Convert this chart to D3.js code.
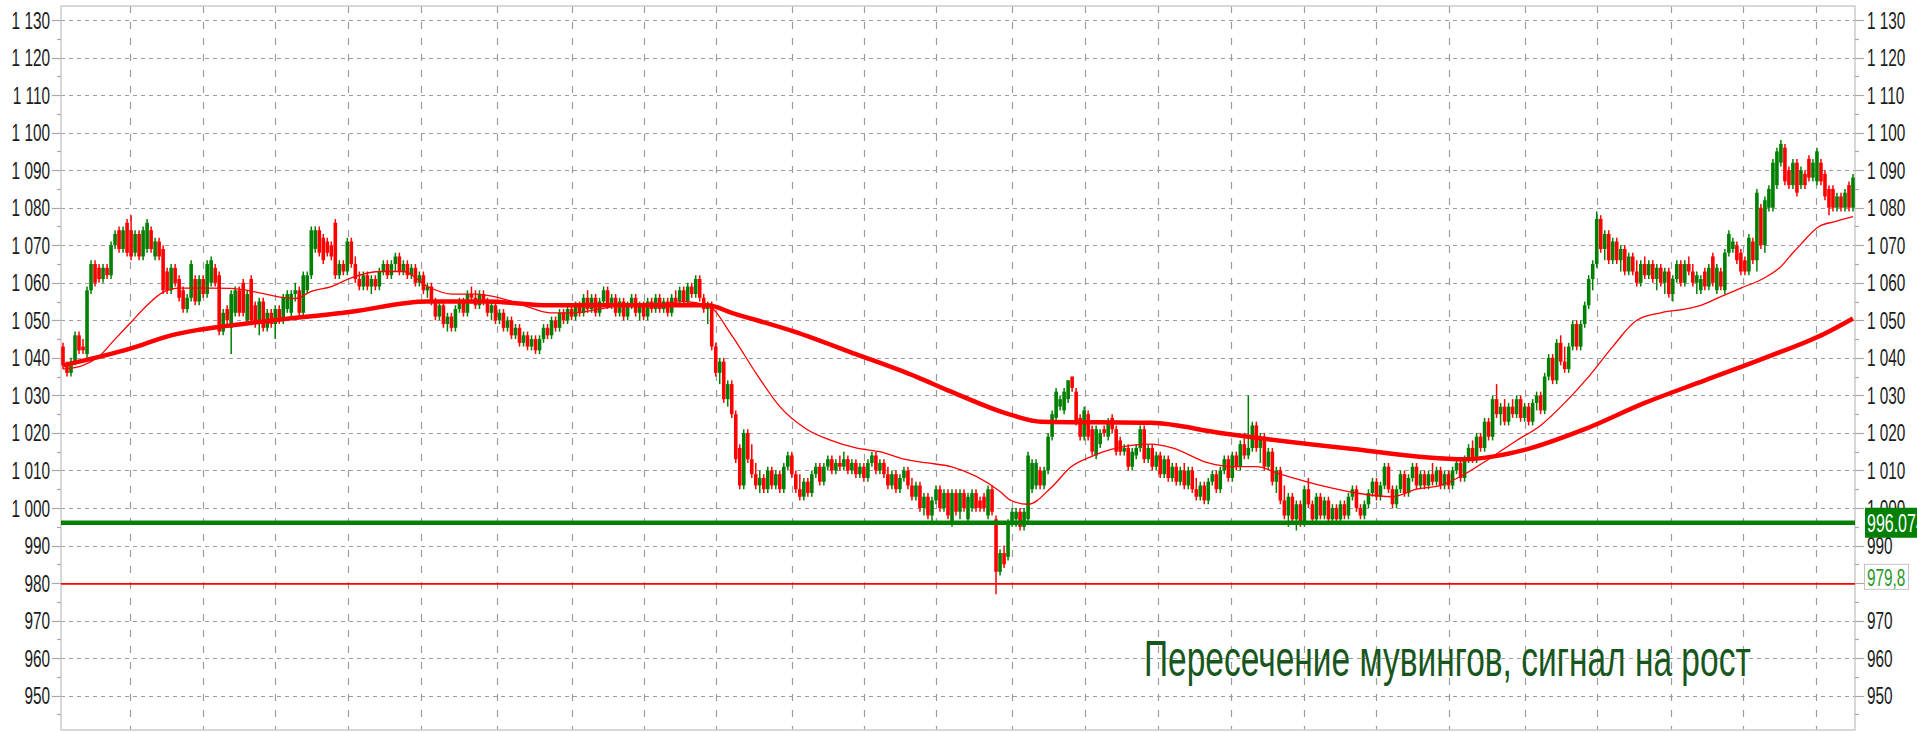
<!DOCTYPE html>
<html>
<head>
<meta charset="utf-8">
<script src="https://cdn.jsdelivr.net/npm/d3@7"></script>
<style>
html,body{margin:0;padding:0;background:#fff;overflow:hidden}
svg{display:block}
</style>
</head>
<body>
<svg id="chart" width="1917" height="732"></svg>
<script>
// ---- price candles (open / high / low / close) ----
const opens = [
1043,1038,1036,1039,1046,1043,1041,1058,1065,1064,
1061,1064,1062,1070,1074,1069,1076,1074,1068,1073,
1067,1069,1074,1067,1071,1069,1063,1058,1064,1061,
1058,1053,1056,1061,1055,1061,1057,1060,1064,1062,
1047,1053,1048,1052,1058,1060,1050,1061,1054,1049,
1055,1048,1052,1049,1053,1050,1053,1052,1057,1058,
1052,1058,1062,1069,1074,1072,1071,1070,1076,1062,
1065,1063,1071,1065,1061,1059,1062,1059,1061,1059,
1063,1065,1062,1065,1067,1063,1065,1062,1064,1060,
1062,1058,1059,1055,1051,1054,1049,1051,1048,1053,
1055,1052,1057,1056,1054,1057,1055,1052,1054,1050,
1052,1048,1050,1046,1048,1044,1046,1043,1045,1042,
1045,1048,1046,1050,1048,1052,1050,1053,1051,1054,
1052,1056,1053,1056,1052,1055,1058,1054,1056,1052,
1055,1051,1054,1056,1052,1054,1051,1055,1053,1056,
1053,1055,1052,1056,1055,1058,1055,1059,1057,1061,
1056,1053,1054,1043,1036,1039,1029,1033,1025,1016,
1006,1020,1013,1009,1006,1008,1005,1010,1006,1009,
1005,1011,1014,1009,1005,1003,1007,1004,1009,1011,
1007,1011,1013,1010,1012,1011,1013,1010,1012,1009,
1011,1008,1012,1014,1010,1012,1009,1006,1009,1005,
1008,1010,1006,1003,1006,1000,1003,998,1002,1005,
1000,1004,996,1004,999,1004,997,1000,1004,1002,
1003,998,1005,997,983,988,987,996,997,999,
995,997,1005,1006,1010,1006,1010,1019,1024,1027,
1026,1029,1035,1031,1024,1019,1025,1021,1014,1017,
1021,1019,1024,1021,1018,1015,1016,1011,1014,1016,
1021,1013,1016,1011,1014,1009,1013,1008,1011,1007,
1010,1006,1010,1005,1003,1006,1002,1007,1009,1005,
1010,1013,1008,1014,1011,1017,1014,1016,1022,1016,
1019,1011,1015,1007,1010,1002,998,1003,997,1001,
996,1005,1001,997,1003,998,1002,997,1000,997,
1001,998,1003,1005,1000,998,1001,1004,1007,1003,
1006,1011,1005,1001,1005,1009,1004,1008,1011,1006,
1009,1006,1009,1007,1010,1006,1009,1006,1010,1012,
1008,1013,1016,1013,1019,1016,1023,1019,1029,1025,
1027,1023,1027,1025,1029,1024,1027,1023,1028,1030,
1026,1035,1040,1034,1044,1039,1037,1043,1049,1043,
1049,1054,1061,1065,1077,1069,1073,1066,1071,1066,
1069,1063,1067,1063,1060,1065,1062,1065,1061,1064,
1060,1063,1057,1061,1065,1060,1065,1063,1060,1058,
1063,1059,1067,1058,1063,1058,1068,1069,1070,1068,
1066,1063,1071,1066,1080,1070,1080,1080,1086,1092,
1096,1090,1086,1092,1086,1089,1093,1088,1087,1092,
1089,1085,1085,1080,1083,1080,1086,1080
];
const highs = [
1044,1039,1040,1047,1047,1045,1059,1066,1066,1065,
1065,1065,1071,1074,1075,1075,1077,1078,1074,1074,
1075,1077,1075,1072,1072,1070,1064,1065,1065,1062,
1059,1057,1066,1062,1062,1062,1066,1067,1065,1063,
1053,1054,1058,1059,1059,1061,1058,1062,1055,1056,
1056,1053,1053,1054,1054,1057,1058,1058,1060,1059,
1063,1063,1075,1075,1075,1073,1072,1071,1077,1066,
1066,1072,1072,1067,1063,1063,1063,1062,1062,1064,
1066,1066,1066,1068,1068,1066,1066,1065,1065,1063,
1063,1060,1060,1056,1055,1055,1052,1052,1054,1056,
1056,1058,1059,1058,1058,1058,1056,1055,1055,1053,
1053,1051,1051,1049,1049,1047,1047,1046,1046,1046,
1049,1049,1051,1051,1053,1053,1054,1054,1055,1055,
1057,1058,1057,1057,1056,1059,1059,1057,1057,1056,
1056,1055,1057,1057,1055,1055,1056,1056,1057,1057,
1056,1056,1057,1058,1059,1059,1060,1060,1062,1062,
1057,1055,1055,1044,1040,1040,1034,1034,1026,1017,
1021,1021,1017,1012,1010,1009,1011,1011,1010,1010,
1012,1015,1015,1010,1009,1008,1008,1010,1012,1012,
1012,1014,1014,1013,1014,1015,1014,1013,1013,1012,
1012,1013,1015,1015,1013,1013,1011,1010,1010,1009,
1011,1011,1008,1007,1007,1004,1004,1003,1006,1006,
1005,1005,1005,1005,1005,1005,1004,1005,1005,1003,
1004,1006,1006,998,989,990,997,1000,1000,1000,
1000,1015,1013,1013,1011,1011,1020,1026,1032,1030,
1032,1034,1035,1032,1025,1027,1026,1022,1022,1021,
1022,1024,1025,1022,1019,1017,1017,1016,1017,1022,
1022,1017,1017,1015,1015,1014,1014,1012,1012,1011,
1012,1011,1011,1008,1007,1007,1008,1010,1010,1011,
1014,1014,1015,1015,1018,1020,1030,1023,1023,1020,
1020,1016,1016,1011,1011,1006,1004,1004,1002,1002,
1006,1008,1002,1004,1004,1003,1003,1001,1001,1002,
1002,1004,1006,1006,1001,1002,1005,1008,1008,1007,
1012,1012,1006,1006,1010,1010,1009,1012,1012,1010,
1010,1010,1012,1011,1011,1010,1010,1011,1013,1013,
1014,1017,1018,1020,1020,1024,1024,1030,1033,1028,
1029,1028,1029,1030,1030,1028,1028,1029,1031,1031,
1036,1041,1041,1045,1046,1043,1044,1050,1050,1050,
1055,1062,1066,1079,1078,1074,1074,1072,1072,1070,
1070,1068,1068,1066,1066,1067,1066,1066,1065,1065,
1064,1064,1062,1066,1066,1066,1067,1065,1063,1062,
1064,1065,1068,1065,1064,1069,1074,1072,1071,1069,
1067,1073,1072,1085,1081,1083,1086,1093,1096,1098,
1097,1091,1093,1093,1091,1090,1094,1093,1096,1093,
1090,1086,1086,1084,1084,1085,1087,1089
];
const lows = [
1037,1035,1035,1038,1041,1041,1040,1057,1059,1060,
1060,1061,1061,1069,1068,1068,1067,1066,1067,1066,
1066,1068,1068,1066,1066,1057,1057,1057,1059,1055,
1052,1052,1055,1054,1054,1056,1056,1059,1059,1046,
1046,1049,1041,1051,1051,1051,1049,1049,1048,1046,
1047,1047,1048,1045,1049,1049,1052,1051,1055,1051,
1051,1057,1061,1068,1067,1065,1067,1066,1061,1061,
1062,1062,1064,1060,1058,1058,1058,1057,1058,1058,
1062,1061,1061,1063,1062,1062,1061,1061,1059,1059,
1057,1056,1054,1050,1050,1048,1047,1047,1047,1052,
1051,1051,1055,1053,1053,1054,1051,1050,1049,1049,
1047,1047,1045,1045,1043,1043,1042,1042,1041,1041,
1044,1045,1045,1047,1047,1049,1049,1050,1050,1051,
1051,1052,1052,1051,1051,1054,1053,1053,1051,1051,
1050,1050,1053,1051,1050,1050,1050,1052,1052,1052,
1052,1051,1051,1054,1054,1054,1054,1056,1056,1055,
1052,1049,1042,1035,1033,1028,1027,1024,1012,1005,
1005,1012,1008,1005,1004,1004,1004,1005,1005,1004,
1004,1010,1008,1004,1002,1002,1003,1003,1008,1006,
1006,1010,1009,1009,1010,1010,1009,1009,1008,1008,
1007,1007,1011,1009,1009,1008,1005,1005,1004,1004,
1007,1005,1002,1002,999,998,997,996,1001,999,
999,997,995,998,997,999,996,999,999,999,
999,997,998,977,982,984,986,995,995,994,
994,996,1004,1005,1005,1005,1009,1018,1023,1026,
1025,1028,1031,1022,1018,1018,1018,1014,1013,1016,
1019,1018,1020,1014,1014,1014,1010,1010,1013,1015,
1012,1012,1010,1010,1008,1008,1007,1007,1006,1006,
1005,1005,1004,1002,1002,1001,1001,1006,1004,1004,
1009,1007,1007,1010,1010,1013,1013,1015,1015,1012,
1010,1010,1006,1004,1001,997,995,996,994,995,
995,1000,996,996,997,997,996,996,996,996,
997,997,1002,999,997,997,1000,1003,1002,1002,
1005,1004,1000,1000,1004,1003,1003,1007,1005,1005,
1005,1005,1006,1006,1005,1005,1005,1005,1009,1007,
1007,1012,1012,1012,1015,1015,1018,1018,1024,1022,
1022,1022,1024,1024,1023,1023,1022,1022,1026,1025,
1025,1034,1033,1033,1038,1036,1036,1042,1042,1042,
1048,1053,1058,1064,1068,1066,1065,1065,1065,1063,
1062,1062,1062,1059,1059,1061,1061,1060,1058,1059,
1057,1056,1055,1060,1059,1059,1062,1059,1057,1057,
1058,1058,1059,1057,1058,1057,1067,1068,1065,1062,
1062,1062,1065,1063,1069,1068,1079,1079,1085,1091,
1086,1085,1085,1083,1085,1085,1087,1087,1086,1086,
1082,1078,1079,1079,1079,1079,1079,1079
];
const closes = [
1038,1036,1039,1046,1042,1042,1058,1065,1060,1061,
1064,1062,1070,1073,1069,1074,1068,1067,1073,1067,
1074,1076,1069,1071,1067,1058,1058,1064,1060,1056,
1053,1056,1065,1055,1061,1057,1065,1066,1060,1047,
1052,1050,1057,1058,1052,1052,1057,1050,1049,1055,
1048,1052,1049,1053,1050,1056,1057,1057,1058,1052,
1062,1062,1074,1074,1068,1066,1068,1067,1062,1065,
1063,1071,1065,1061,1059,1062,1059,1061,1059,1063,
1065,1062,1065,1067,1063,1065,1062,1064,1060,1062,
1058,1059,1055,1051,1054,1049,1051,1048,1053,1055,
1052,1057,1056,1054,1057,1055,1052,1054,1050,1052,
1048,1050,1046,1048,1044,1046,1043,1045,1042,1045,
1048,1046,1050,1048,1052,1050,1053,1051,1054,1052,
1056,1053,1056,1052,1055,1058,1054,1056,1052,1055,
1051,1054,1056,1052,1054,1051,1055,1053,1056,1053,
1055,1052,1056,1055,1058,1055,1059,1057,1061,1056,
1053,1054,1043,1036,1039,1029,1033,1025,1013,1006,
1020,1013,1009,1006,1008,1005,1010,1006,1009,1005,
1011,1014,1009,1005,1003,1007,1004,1009,1011,1007,
1011,1013,1010,1012,1011,1013,1010,1012,1009,1011,
1008,1012,1014,1010,1012,1009,1006,1009,1005,1008,
1010,1006,1003,1006,1000,1003,998,1002,1005,1000,
1004,998,1004,999,1004,1000,1003,1004,1000,1000,
1000,1005,999,983,988,985,996,999,999,995,
999,1014,1012,1012,1006,1010,1019,1025,1031,1029,
1031,1034,1032,1023,1019,1026,1019,1015,1021,1020,
1020,1023,1021,1015,1015,1016,1011,1015,1016,1021,
1013,1016,1011,1014,1009,1013,1008,1011,1007,1010,
1006,1010,1005,1003,1006,1002,1007,1009,1005,1010,
1013,1008,1014,1011,1017,1014,1016,1022,1016,1019,
1011,1015,1007,1010,1002,998,1003,997,1001,996,
1005,1001,997,1003,998,1002,997,1000,997,1001,
998,1003,1005,1000,998,1001,1004,1007,1003,1006,
1011,1005,1001,1005,1009,1004,1008,1011,1006,1009,
1006,1009,1007,1010,1006,1009,1006,1010,1012,1008,
1013,1016,1013,1019,1016,1023,1019,1029,1025,1027,
1023,1027,1025,1029,1024,1027,1023,1028,1030,1026,
1035,1040,1034,1044,1039,1037,1043,1049,1043,1049,
1054,1061,1065,1077,1069,1073,1066,1071,1066,1069,
1063,1067,1063,1060,1065,1062,1065,1061,1064,1060,
1063,1057,1061,1065,1060,1065,1063,1060,1062,1061,
1059,1064,1060,1064,1059,1068,1073,1071,1066,1063,
1063,1072,1066,1084,1070,1082,1085,1092,1095,1097,
1087,1086,1092,1084,1090,1086,1088,1092,1095,1087,
1083,1080,1080,1083,1080,1084,1080,1088
];

// ---- moving averages, sampled at candle positions ----
const fastMaIdx = [0,5,9,13,17,21,25,29,37,42,47,53.5,58,62,67,72,78.8,85,91,97,103,109,115,121.6,127.7,133.8,139.9,146,155,161,167,173,179,185.7,191.8,198,204,210,216,221.75,234,236.75,241,246.75,251.75,256.75,261.75,271.75,277,286,292,298,304,314,323,332,338,344,350,356,363,369,375,381,387,393,399,405,409,414,419,424,429,432,434,438.5,442.5,447];
const fastMaVal = [1037,1038,1040.4,1045,1049.5,1054,1057.5,1058.6,1058.6,1058.5,1057.8,1056.3,1055.8,1057.7,1059,1061.3,1063,1063,1059,1057,1057,1056,1054,1052,1052,1053,1054,1054,1055,1054,1046,1036,1027,1021,1018,1016,1015,1013,1012,1011,1004.4,1002,1001,1005.4,1011,1013.7,1015.6,1017,1016,1012,1011,1011,1009,1006,1004,1003,1005,1006,1009,1013,1018,1022,1028,1035,1043,1050,1052,1053,1054,1056.3,1058.6,1060.8,1064.3,1068,1070.3,1075,1076.3,1077.6];
const slowMaIdx = [0,17,27,34,47,72,91,106,121.6,137,152,161,167,182.6,198,213,221.75,236.75,244.25,271.75,289,320,350,365,380,395,410,425,440,447];
const slowMaVal = [1038,1042.5,1046,1047.5,1049.3,1052.3,1055,1055,1054,1054,1054,1054,1052,1047,1041,1035,1031,1024.8,1023,1022.7,1020,1016,1013,1015.5,1021,1028,1034,1040,1046.5,1050.5];

// ---- axis ticks, time grid, levels, note ----
const tickValues = [950,960,970,980,990,1000,1010,1020,1030,1040,1050,1060,1070,1080,1090,1100,1110,1120,1130];
const tickLabels = ["950","960","970","980","990","1 000","1 010","1 020","1 030","1 040","1 050","1 060","1 070","1 080","1 090","1 100","1 110","1 120","1 130"];
const minorTicks = [945,955,965,975,985,995,1005,1015,1025,1035,1045,1055,1065,1075,1085,1095,1105,1115,1125];
const timeGrid = [16.75,35,53,71.25,89.5,108.5,127,145,163,182,200,218,237,255.25,273.5,291.75,310,328,346,365,383,401.5,419.5,437.75];
const supportLevel = 996.074, supportLabel = "996.074";
const stopLevel = 979.8, stopLabel = "979,8";
const noteText = "Пересечение мувингов, сигнал на рост";

// ---- layout ----
const plot = {left: 61, right: 1855, top: 6, bottom: 730};
const svg = d3.select("#chart");
const N = closes.length;
const x = d3.scaleLinear().domain([-0.5, N - 0.5]).range([plot.left, plot.right]);
const y = d3.scaleLinear().domain([950, 1130]).range([695.7, 20]);
const FONT = "'Liberation Sans', Arial, sans-serif";
const SX = 0.64;

svg.append("rect").attr("width", 1917).attr("height", 732).attr("fill", "#fff");

// horizontal grid
const grid = svg.append("g");
grid.selectAll("line.h").data(tickValues).join("line")
  .attr("x1", plot.left).attr("x2", plot.right)
  .attr("y1", d => Math.round(y(d)) + 0.5).attr("y2", d => Math.round(y(d)) + 0.5)
  .attr("stroke", "#9c9c9c").attr("stroke-width", 1.2).attr("stroke-dasharray", "4,4");
// vertical time grid
grid.selectAll("line.v").data(timeGrid).join("line")
  .attr("x1", d => Math.round(x(d)) + 0.5).attr("x2", d => Math.round(x(d)) + 0.5)
  .attr("y1", plot.top).attr("y2", plot.bottom)
  .attr("stroke", "#9c9c9c").attr("stroke-width", 1.2).attr("stroke-dasharray", "7,9");

// frame
svg.append("rect")
  .attr("x", plot.left).attr("y", plot.top)
  .attr("width", plot.right - plot.left).attr("height", plot.bottom - plot.top)
  .attr("fill", "none").attr("stroke", "#cbcbcb").attr("stroke-width", 1.5);

// axis ticks
const axes = svg.append("g").attr("stroke", "#a8a8a8").attr("stroke-width", 1.2);
[[plot.left, -9, -4], [plot.right, 9, 4]].forEach(([x0, major, minor]) => {
  axes.append("g").selectAll("line").data(tickValues).join("line")
    .attr("x1", x0).attr("x2", x0 + major)
    .attr("y1", d => Math.round(y(d)) + 0.5).attr("y2", d => Math.round(y(d)) + 0.5);
  axes.append("g").selectAll("line").data(minorTicks).join("line")
    .attr("x1", x0).attr("x2", x0 + minor)
    .attr("y1", d => Math.round(y(d)) + 0.5).attr("y2", d => Math.round(y(d)) + 0.5);
});

// tick labels; on the right scale the stop tag sits where the 980 label would be
function label(g, xPos, anchor, values) {
  g.selectAll("text").data(values).join("text")
    .attr("transform", d => `translate(${xPos},${y(d) + 8.5}) scale(${SX},1)`)
    .attr("text-anchor", anchor)
    .attr("font-family", FONT).attr("font-size", 24).attr("fill", "#1b1b1b")
    .text(d => tickLabels[tickValues.indexOf(d)]);
}
label(svg.append("g"), 50, "end", tickValues);
label(svg.append("g"), 1867, "start", tickValues.filter(v => Math.abs(v - stopLevel) > 3));

// candles
svg.append("clipPath").attr("id", "plotclip")
  .append("rect").attr("x", plot.left).attr("y", plot.top)
  .attr("width", plot.right - plot.left).attr("height", plot.bottom - plot.top);
const body = svg.append("g").attr("clip-path", "url(#plotclip)");
const candleColor = i => closes[i] >= opens[i] ? "#008000" : "#ff0000";
const cg = body.append("g");
cg.selectAll("line").data(d3.range(N)).join("line")
  .attr("x1", i => x(i)).attr("x2", i => x(i))
  .attr("y1", i => y(highs[i])).attr("y2", i => y(lows[i]))
  .attr("stroke", candleColor).attr("stroke-width", 1.5);
cg.selectAll("rect").data(d3.range(N)).join("rect")
  .attr("x", i => x(i) - 1.8).attr("width", 3.6)
  .attr("y", i => y(Math.max(opens[i], closes[i])))
  .attr("height", i => Math.max(2, Math.abs(y(opens[i]) - y(closes[i]))))
  .attr("fill", candleColor);

// moving averages
const maLine = d3.line().x(d => x(d[0])).y(d => y(d[1])).curve(d3.curveMonotoneX);
body.append("path").datum(d3.zip(slowMaIdx, slowMaVal))
  .attr("d", maLine).attr("fill", "none").attr("stroke", "#ff0000").attr("stroke-width", 4.5);
body.append("path").datum(d3.zip(fastMaIdx, fastMaVal))
  .attr("d", maLine).attr("fill", "none").attr("stroke", "#ff0000").attr("stroke-width", 1.3);

// levels
body.append("line").attr("x1", plot.left).attr("x2", plot.right)
  .attr("y1", y(stopLevel)).attr("y2", y(stopLevel))
  .attr("stroke", "#ff0000").attr("stroke-width", 1.6);
body.append("line").attr("x1", plot.left).attr("x2", plot.right)
  .attr("y1", y(supportLevel)).attr("y2", y(supportLevel))
  .attr("stroke", "#008000").attr("stroke-width", 4.5);

// level tags on the right scale
const sy = y(supportLevel);
svg.append("rect").attr("x", 1865).attr("y", sy - 15).attr("width", 60).attr("height", 30).attr("fill", "#008000");
svg.append("text").attr("transform", `translate(1867,${sy + 9}) scale(${SX},1)`)
  .attr("font-family", FONT).attr("font-size", 25).attr("fill", "#fff").text(supportLabel);
const ry = y(stopLevel);
svg.append("rect").attr("x", 1864.5).attr("y", ry - 19.5).attr("width", 44).attr("height", 25)
  .attr("fill", "#fff").attr("stroke", "#c4c4c4").attr("stroke-width", 1);
svg.append("text").attr("transform", `translate(1867,${ry + 2}) scale(${SX},1)`)
  .attr("font-family", FONT).attr("font-size", 24).attr("fill", "#2b9a2b").text(stopLabel);

// note, condensed to its slot
const note = svg.append("text")
  .attr("font-family", FONT).attr("font-size", 50).attr("fill", "#17561c")
  .text(noteText);
const noteWidth = note.node().getComputedTextLength();
note.attr("transform", `translate(1144,676) scale(${607 / noteWidth},1)`);
</script>
</body>
</html>
